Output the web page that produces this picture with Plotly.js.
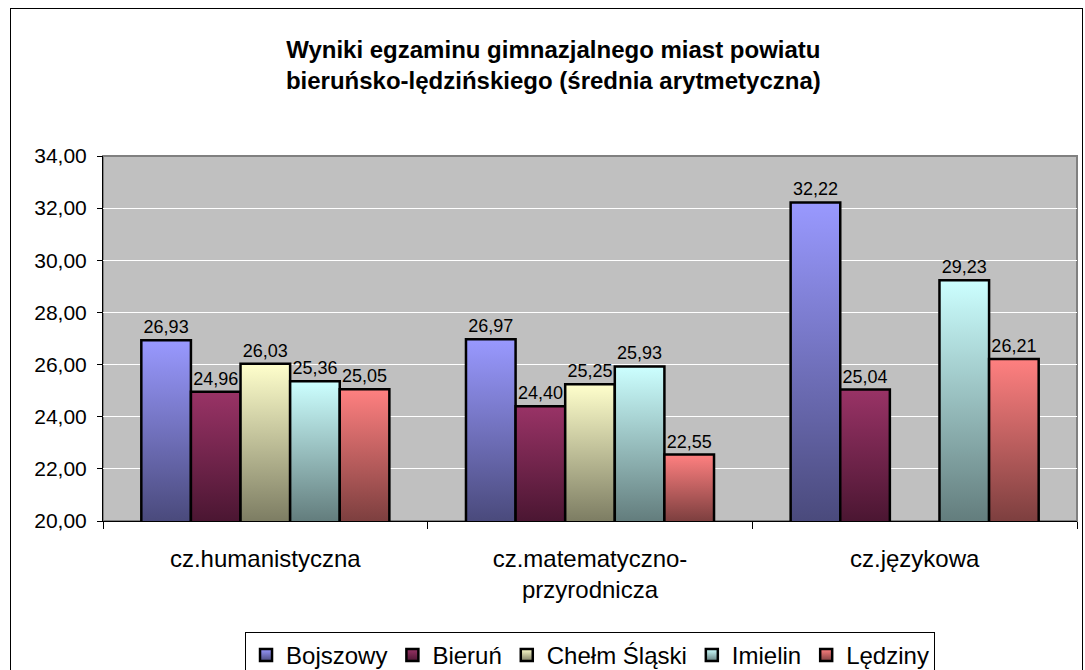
<!DOCTYPE html>
<html><head><meta charset="utf-8">
<script src="https://cdn.plot.ly/plotly-3.0.1.min.js"></script>
<style>
html,body{margin:0;padding:0;background:#fff;}
#wrap{position:relative;width:1085px;height:670px;overflow:hidden;}
#chart{width:1085px;height:670px;}
#frame{position:absolute;left:10px;top:8px;width:1071px;height:720px;border:1px solid #000;pointer-events:none;}
</style>
</head><body>
<div id="wrap"><div id="chart"></div><div id="frame"></div></div>
<script>
const categories = ['cz.humanistyczna', 'cz.matematyczno-<br>przyrodnicza', 'cz.językowa'];
const seriesNames = ['Bojszowy', 'Bieruń', 'Chełm Śląski', 'Imielin', 'Lędziny'];
const bojszowy = [26.93, 26.97, 32.22];
const bierun   = [24.96, 24.40, 25.04];
const chelm    = [26.03, 25.25, null];
const imielin  = [25.36, 25.93, 29.23];
const ledziny  = [25.05, 22.55, 26.21];
const seriesValues = [bojszowy, bierun, chelm, imielin, ledziny];
const topColors    = ['#9999FF', '#993366', '#FFFFCC', '#CCFFFF', '#FF8080'];
const bottomColors = ['#4A4A7C', '#4B1632', '#7D7D63', '#637D7D', '#7D3F3F'];

const traces = seriesNames.map((name, i) => ({
  type: 'bar',
  name: name,
  x: categories,
  y: seriesValues[i],
  marker: {color: topColors[i], line: {color: '#000', width: 2.5}},
  texttemplate: '%{y:.2f}',
  textposition: 'outside',
  textfont: {size: 18, color: '#000', family: 'Liberation Sans, Arial, sans-serif'},
  cliponaxis: false,
  constraintext: 'none',
  hoverinfo: 'skip'
}));

const layout = {
  width: 1085, height: 670,
  margin: {l: 103, r: 8, t: 156, b: 149, pad: 0},
  paper_bgcolor: '#ffffff',
  plot_bgcolor: '#C0C0C0',
  separators: ', ',
  font: {family: 'Liberation Sans, Arial, sans-serif', color: '#000'},
  barmode: 'group',
  bargap: 0.236,
  bargroupgap: 0,
  showlegend: true,
  title: {
    text: '<b>Wyniki egzaminu gimnazjalnego miast powiatu<br>bieruńsko-lędzińskiego (średnia arytmetyczna)</b>',
    font: {size: 24, color: '#000', family: 'Liberation Sans, Arial, sans-serif'},
    xref: 'container', x: 0.51, xanchor: 'center',
    yref: 'container', y: 0.913, yanchor: 'middle'
  },
  xaxis: {
    type: 'category',
    tickson: 'boundaries',
    ticks: 'outside', ticklen: 7, tickcolor: '#000', tickwidth: 1,
    showline: true, linecolor: '#000', linewidth: 1,
    showgrid: false,
    tickfont: {size: 24, color: '#000'},
    ticklabelstandoff: 16,
    fixedrange: true
  },
  yaxis: {
    range: [20, 34],
    dtick: 2, tick0: 20,
    tickformat: '.2f',
    ticks: 'outside', ticklen: 5, tickcolor: '#000', tickwidth: 1,
    showline: true, linecolor: '#000', linewidth: 1,
    gridcolor: '#ffffff', gridwidth: 1,
    zeroline: false,
    tickfont: {size: 21, color: '#000'},
    ticklabelstandoff: 6,
    fixedrange: true
  },
  shapes: [{
    type: 'rect', xref: 'paper', yref: 'paper', x0: 0, x1: 1, y0: 0, y1: 1,
    line: {color: '#808080', width: 2}, layer: 'below'
  }],
  legend: {
    orientation: 'h',
    xref: 'container', x: 0.5438, xanchor: 'center',
    yref: 'container', y: 0.0567, yanchor: 'top',
    bgcolor: '#ffffff', bordercolor: '#000', borderwidth: 1,
    font: {size: 24, color: '#000'},
    itemwidth: 30,
    traceorder: 'normal'
  }
};

function applyGradients(gd) {
  const NS = 'http://www.w3.org/2000/svg';
  const svg = gd.querySelector('.main-svg');
  let defs = svg.querySelector('defs');
  if (!defs) { defs = document.createElementNS(NS, 'defs'); svg.insertBefore(defs, svg.firstChild); }
  defs.querySelectorAll('.mygrad').forEach(e => e.remove());
  const bottom = gd._fullLayout.yaxis._length;
  function makeGrad(id, idx, units, y1, y2) {
    const lg = document.createElementNS(NS, 'linearGradient');
    lg.setAttribute('id', id);
    lg.setAttribute('class', 'mygrad');
    lg.setAttribute('gradientUnits', units);
    lg.setAttribute('x1', 0); lg.setAttribute('x2', 0);
    lg.setAttribute('y1', y1); lg.setAttribute('y2', y2);
    [[0, topColors[idx]], [1, bottomColors[idx]]].forEach(([o, c]) => {
      const s = document.createElementNS(NS, 'stop');
      s.setAttribute('offset', o);
      s.setAttribute('stop-color', c);
      lg.appendChild(s);
    });
    defs.appendChild(lg);
  }
  gd.querySelectorAll('.barlayer .trace').forEach((tr, i) => {
    const d = tr.__data__;
    const idx = (d && d[0] && d[0].trace) ? d[0].trace.index : i;
    tr.querySelectorAll('.point path').forEach((p, j) => {
      const bb = p.getBBox();
      const id = 'gbar' + idx + '_' + j;
      makeGrad(id, idx, 'userSpaceOnUse', bb.y, bottom);
      p.style.fill = 'url(#' + id + ')';
    });
  });
  gd.querySelectorAll('.legend .traces').forEach((tr, i) => {
    const d = tr.__data__;
    const idx = (d && d[0] && d[0].trace) ? d[0].trace.index : i;
    const id = 'gleg' + idx;
    makeGrad(id, idx, 'objectBoundingBox', 0, 1);
    tr.querySelectorAll('.legendpoints path').forEach(p => { p.style.fill = 'url(#' + id + ')'; });
  });
}

Plotly.newPlot('chart', traces, layout, {displayModeBar: false, staticPlot: true}).then(gd => applyGradients(gd));
</script>
</body></html>
